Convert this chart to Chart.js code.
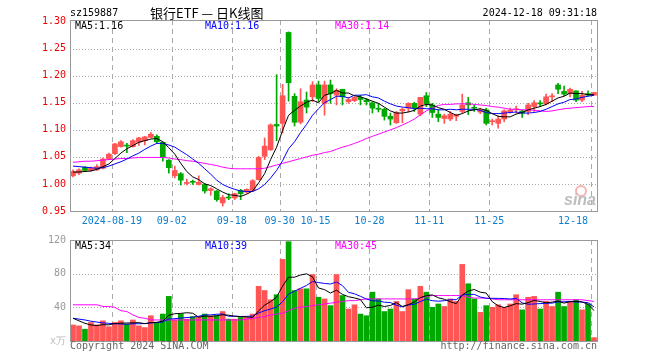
<!DOCTYPE html>
<html>
<head>
<meta charset="utf-8">
<script src="https://cdn.jsdelivr.net/npm/chart.js@4.4.1/dist/chart.umd.min.js"></script>
<style>
  body { margin: 0; background: #fff; }
  #wrap { position: relative; width: 660px; height: 360px; overflow: hidden;
          font-family: "DejaVu Sans Mono", monospace; font-size: 10px; color: #000; }
  #wrap canvas { position: absolute; left: 0; }
  .t { position: absolute; line-height: 12px; white-space: pre; }
</style>
</head>
<body>
<div id="wrap">
  <canvas id="kline" width="660" height="231" style="top:0"></canvas>
  <canvas id="vol" width="660" height="130" style="top:230px"></canvas>

  <div class="t" style="left:70px;top:7px">sz159887</div>
  <div class="t" style="left:150px;top:5px;font-family:'Noto Sans CJK SC';font-size:13px;line-height:16px">银行ETF — 日K线图</div>
  <div class="t" style="right:63px;top:7px">2024-12-18 09:31:18</div>

  <div class="t" style="left:75px;top:20px">MA5:1.16</div>
  <div class="t" style="left:205px;top:20px;color:#0000ff">MA10:1.16</div>
  <div class="t" style="left:335px;top:20px;color:#ff00ff">MA30:1.14</div>

  <div style="position:absolute;left:575px;top:185px;width:8px;height:8px;border:2px solid #f5b3b3;border-radius:50%"></div>
  <div class="t" style="left:564px;top:192px;font:italic bold 16px 'Liberation Sans';line-height:16px;color:#bdbdbd">sina</div>

  <div class="t" style="left:75px;top:240px">MA5:34</div>
  <div class="t" style="left:205px;top:240px;color:#0000ff">MA10:39</div>
  <div class="t" style="left:335px;top:240px;color:#ff00ff">MA30:45</div>

  <div class="t" style="left:70px;top:340px;color:#666">Copyright 2024 SINA.COM</div>
  <div class="t" style="right:63px;top:340px;color:#666">http://finance.sina.com.cn</div>
</div>
<script>
// trading days shown on the chart
const dates = [
  '2024-08-08','2024-08-09','2024-08-12','2024-08-13','2024-08-14','2024-08-15','2024-08-16','2024-08-19','2024-08-20','2024-08-21',
  '2024-08-22','2024-08-23','2024-08-26','2024-08-27','2024-08-28','2024-08-29','2024-08-30','2024-09-02','2024-09-03','2024-09-04',
  '2024-09-05','2024-09-06','2024-09-09','2024-09-10','2024-09-11','2024-09-12','2024-09-13','2024-09-18','2024-09-19','2024-09-20',
  '2024-09-23','2024-09-24','2024-09-25','2024-09-26','2024-09-27','2024-09-30','2024-10-08','2024-10-09','2024-10-10','2024-10-11',
  '2024-10-14','2024-10-15','2024-10-16','2024-10-17','2024-10-18','2024-10-21','2024-10-22','2024-10-23','2024-10-24','2024-10-25',
  '2024-10-28','2024-10-29','2024-10-30','2024-10-31','2024-11-01','2024-11-04','2024-11-05','2024-11-06','2024-11-07','2024-11-08',
  '2024-11-11','2024-11-12','2024-11-13','2024-11-14','2024-11-15','2024-11-18','2024-11-19','2024-11-20','2024-11-21','2024-11-22',
  '2024-11-25','2024-11-26','2024-11-27','2024-11-28','2024-11-29','2024-12-02','2024-12-03','2024-12-04','2024-12-05','2024-12-06',
  '2024-12-09','2024-12-10','2024-12-11','2024-12-12','2024-12-13','2024-12-16','2024-12-17','2024-12-18'
];
const tickDates = ['2024-08-19','2024-09-02','2024-09-18','2024-09-30','2024-10-15','2024-10-28','2024-11-11','2024-11-25','2024-12-18'];
const tickText = ['2024-08-19','09-02','09-18','09-30','10-15','10-28','11-11','11-25','12-18'];

const open = [
  1.015,1.020,1.031,1.025,1.026,1.029,1.046,1.056,1.069,1.071,
  1.069,1.077,1.080,1.086,1.088,1.077,1.044,1.015,1.019,1.001,
  1.004,0.999,0.999,0.988,0.987,0.965,0.975,0.974,0.988,0.985,
  0.988,1.008,1.051,1.063,1.110,1.112,1.280,1.162,1.114,1.155,
  1.161,1.183,1.149,1.183,1.164,1.175,1.152,1.154,1.160,1.155,
  1.150,1.139,1.138,1.125,1.113,1.135,1.140,1.149,1.129,1.163,
  1.146,1.129,1.121,1.120,1.125,1.134,1.150,1.141,1.133,1.137,
  1.115,1.112,1.120,1.133,1.137,1.135,1.134,1.143,1.149,1.148,
  1.161,1.183,1.171,1.167,1.172,1.155,1.167,1.164
];
const high = [
  1.026,1.028,1.032,1.031,1.036,1.048,1.057,1.075,1.080,1.075,
  1.082,1.086,1.088,1.095,1.091,1.078,1.045,1.033,1.021,1.009,
  1.007,1.015,1.001,0.993,0.988,0.979,0.982,0.983,0.990,0.991,
  1.008,1.051,1.085,1.111,1.202,1.184,1.281,1.167,1.176,1.170,
  1.189,1.190,1.190,1.192,1.176,1.175,1.160,1.161,1.164,1.158,
  1.152,1.149,1.140,1.131,1.134,1.140,1.150,1.151,1.160,1.169,
  1.149,1.137,1.129,1.134,1.129,1.166,1.160,1.146,1.140,1.140,
  1.120,1.126,1.137,1.140,1.144,1.137,1.149,1.154,1.154,1.166,
  1.167,1.186,1.181,1.177,1.172,1.171,1.172,1.169
];
const low = [
  1.013,1.017,1.023,1.023,1.025,1.028,1.045,1.054,1.068,1.058,
  1.068,1.071,1.072,1.085,1.075,1.042,1.020,1.011,0.998,0.998,
  0.999,0.998,0.983,0.979,0.968,0.959,0.971,0.971,0.971,0.983,
  0.986,1.007,1.045,1.062,1.080,1.094,1.153,1.107,1.111,1.131,
  1.152,1.152,1.127,1.149,1.146,1.146,1.149,1.152,1.146,1.146,
  1.131,1.133,1.118,1.109,1.112,1.113,1.133,1.134,1.126,1.143,
  1.123,1.115,1.112,1.117,1.117,1.131,1.128,1.134,1.130,1.109,
  1.109,1.103,1.115,1.131,1.131,1.123,1.128,1.134,1.143,1.146,
  1.152,1.167,1.163,1.161,1.152,1.152,1.163,1.164
];
const close = [
  1.023,1.026,1.025,1.029,1.032,1.046,1.055,1.074,1.078,1.070,
  1.080,1.085,1.087,1.092,1.078,1.049,1.030,1.025,1.007,1.002,
  1.003,1.003,0.987,0.991,0.971,0.975,0.974,0.982,0.982,0.990,
  1.006,1.049,1.070,1.109,1.107,1.163,1.187,1.114,1.152,1.142,
  1.183,1.158,1.183,1.167,1.173,1.161,1.156,1.160,1.156,1.152,
  1.140,1.138,1.125,1.120,1.132,1.138,1.149,1.141,1.160,1.148,
  1.132,1.123,1.126,1.129,1.126,1.146,1.146,1.140,1.136,1.112,
  1.116,1.120,1.135,1.136,1.138,1.131,1.146,1.150,1.148,1.161,
  1.162,1.175,1.166,1.175,1.155,1.164,1.164,1.169
];
const ma5 = [
  1.022,1.022,1.023,1.024,1.027,1.032,1.037,1.047,1.057,1.065,
  1.071,1.077,1.080,1.083,1.084,1.078,1.067,1.055,1.038,1.023,
  1.013,1.008,1.000,0.997,0.991,0.985,0.980,0.979,0.977,0.981,
  0.987,1.002,1.019,1.045,1.068,1.099,1.127,1.136,1.144,1.151,
  1.155,1.150,1.164,1.167,1.173,1.168,1.168,1.163,1.161,1.157,
  1.153,1.149,1.142,1.135,1.131,1.131,1.133,1.136,1.144,1.147,
  1.146,1.141,1.138,1.132,1.127,1.130,1.135,1.137,1.139,1.136,
  1.130,1.125,1.124,1.124,1.129,1.132,1.137,1.140,1.143,1.147,
  1.153,1.159,1.162,1.168,1.167,1.167,1.165,1.165
];
const ma10 = [
  1.033,1.032,1.031,1.030,1.029,1.030,1.033,1.037,1.041,1.046,
  1.052,1.057,1.064,1.070,1.075,1.075,1.072,1.068,1.061,1.054,
  1.046,1.038,1.028,1.018,1.007,0.999,0.994,0.990,0.987,0.986,
  0.986,0.991,0.999,1.011,1.025,1.043,1.065,1.078,1.095,1.110,
  1.127,1.139,1.150,1.156,1.162,1.162,1.159,1.164,1.164,1.165,
  1.161,1.159,1.153,1.148,1.144,1.142,1.141,1.139,1.140,1.139,
  1.139,1.137,1.137,1.138,1.137,1.138,1.138,1.138,1.136,1.132,
  1.130,1.130,1.131,1.132,1.133,1.131,1.131,1.132,1.134,1.138,
  1.143,1.148,1.151,1.156,1.157,1.160,1.162,1.164
];
const ma30 = [
  1.040,1.041,1.042,1.042,1.043,1.044,1.045,1.046,1.047,1.047,
  1.048,1.049,1.049,1.049,1.049,1.049,1.048,1.046,1.045,1.043,
  1.042,1.040,1.038,1.036,1.034,1.031,1.029,1.028,1.028,1.028,
  1.028,1.028,1.029,1.032,1.035,1.038,1.041,1.044,1.047,1.050,
  1.053,1.055,1.058,1.060,1.064,1.068,1.071,1.075,1.079,1.084,
  1.088,1.092,1.096,1.100,1.104,1.109,1.114,1.120,1.128,1.135,
  1.140,1.145,1.147,1.147,1.148,1.148,1.148,1.147,1.146,1.145,
  1.143,1.142,1.140,1.138,1.138,1.137,1.137,1.136,1.135,1.134,
  1.135,1.137,1.139,1.140,1.141,1.142,1.143,1.143
];
// volume, unit: 万
const volume = [
  19,18,14,22,19,24,17,22,24,20,
  25,18,16,30,22,32,53,25,32,26,
  29,29,32,30,30,35,26,26,28,28,
  32,65,60,49,55,97,118,60,62,62,
  79,52,50,42,79,54,38,43,32,30,
  58,50,35,38,47,35,61,50,65,58,
  40,44,41,50,47,91,68,50,34,42,
  40,43,40,44,55,37,52,53,38,47,
  41,58,41,47,49,37,44,4
];
const volMa5 = [
  27,24,21,19,18.4,19.4,19.2,20.8,21.2,21.4,
  21.6,21.8,20.6,21.8,22.2,23.6,30.6,32.4,32.8,33.6,
  33,28.2,29.6,29.2,30,31.2,30.6,29.4,29,28.6,
  28,35.8,42.6,46.8,52.2,65.2,75.8,75.8,78.4,79.8,
  76.2,63,61,57,60.4,55.4,52.6,51.2,49.2,39.4,
  40.2,42.6,41,42.2,45.6,41,43.2,46.2,51.6,53.8,
  54.8,51.4,49.6,46.6,44.4,54.6,59.4,61.2,58,57,
  46.8,41.8,39.8,41.8,44.4,43.8,45.6,48.2,47,45.4,
  46.2,47.4,45,46.8,47.2,46.4,43.6,36.2
];
const volMa10 = [
  27,26,25,23.5,22.5,21.5,21,20.5,20.2,19.9,
  20.5,20.5,20.7,21.5,21.8,22.6,26.2,26.5,27.3,27.9,
  28.3,29.4,31,31,31.8,32.1,29.4,29.5,29.1,29.3,
  29.6,33.2,36,37.9,40.4,46.6,55.8,59.2,62.6,66,
  70.7,69.4,68.4,67.7,70.1,65.8,57.8,56.1,53.1,49.9,
  47.8,47.6,46.1,45.7,42.5,40.6,42.9,43.6,46.9,49.7,
  47.9,47.3,47.9,49.1,49.1,54.7,55.4,55.4,52.3,50.7,
  50.7,50.6,50.5,49.9,50.7,45.3,43.7,44,44.4,44.9,
  45,46.5,46.6,46.9,46.3,46.3,45.5,40.6
];
const volMa30 = [
  43,43,43,43,43,41,41,40,36,35,
  31,28,27,25,25,25,25,25,25,25,
  25,25,25,25,25,25,25,25,25,26,
  27,28,29,31,32,33,36,39,40,41,
  42,43,44,45,46,47,48,48,49,50,
  50,50,50,50,50,50,50,50,51,53,
  54,54,54,54,54,54,52,51,51,51,
  50,49,49,49,49,49,49,49,49,49,
  49,49,49,49,49,49,48,47
];
const priceTicks = [0.95, 1.00, 1.05, 1.10, 1.15, 1.20, 1.25, 1.30];
const volTicks = [0, 40, 80, 120];

const MONO = "'DejaVu Sans Mono', monospace";
const UP = '#ff5555';
const DOWN = '#00a800';
const GRID = '#aaaaaa';
const colors = close.map((c, i) => (c >= open[i] ? UP : DOWN));
const tickIdx = tickDates.map(d => dates.indexOf(d));

// dashed date lines and dotted level lines, behind the bars
const gridPlugin = {
  id: 'sinaGrid',
  beforeDatasetsDraw(chart, args, opts) {
    const { ctx, chartArea: a, scales: { x, y } } = chart;
    const half = (x.getPixelForValue(1) - x.getPixelForValue(0)) / 2;
    ctx.save();
    ctx.strokeStyle = GRID;
    ctx.lineWidth = 1;
    ctx.setLineDash([5, 4]);
    tickIdx.forEach(i => {
      const px = Math.round(x.getPixelForValue(i) - half) + 0.5;
      ctx.beginPath();
      ctx.moveTo(px, a.top);
      ctx.lineTo(px, a.bottom);
      ctx.stroke();
    });
    ctx.setLineDash([1, 2]);
    opts.levels.forEach(v => {
      const py = Math.round(y.getPixelForValue(v)) + 0.5;
      ctx.beginPath();
      ctx.moveTo(a.left, py);
      ctx.lineTo(a.right, py);
      ctx.stroke();
    });
    ctx.restore();
  }
};

// grey box round the plot area
const framePlugin = {
  id: 'frame',
  afterDraw(chart) {
    const { ctx, chartArea: a } = chart;
    ctx.save();
    ctx.strokeStyle = '#999';
    ctx.lineWidth = 1;
    ctx.strokeRect(a.left + 0.5, a.top + 0.5, a.right - a.left, a.bottom - a.top);
    ctx.restore();
  }
};

function xScale(showLabels) {
  return {
    type: 'category',
    offset: true,
    grid: { display: false, drawTicks: false },
    border: { display: false },
    ticks: {
      display: showLabels,
      autoSkip: false,
      minRotation: 0,
      maxRotation: 0,
      padding: 4,
      labelOffset: -3,
      color: '#0a7fd0',
      font: { family: MONO, size: 10 },
      callback: (v, i) => {
        const k = tickIdx.indexOf(i);
        if (k < 0) return '';
        // last label is pushed left so it stays inside the frame
        return k === tickText.length - 1 ? tickText[k] + '      ' : tickText[k];
      }
    },
    afterFit: s => { s.height = showLabels ? 20 : 19; }
  };
}

function maLine(data, color) {
  return { type: 'line', data, borderColor: color, borderWidth: 1, pointRadius: 0, tension: 0, order: 1 };
}

new Chart(document.getElementById('kline'), {
  type: 'bar',
  data: {
    labels: dates,
    datasets: [
      maLine(ma5, '#000000'),
      maLine(ma10, '#0000ff'),
      maLine(ma30, '#ff00ff'),
      {
        type: 'bar',
        data: close.map((c, i) => [open[i], c]),
        backgroundColor: colors,
        barThickness: 5,
        minBarLength: 1,
        grouped: false,
        order: 2
      },
      {
        type: 'bar',
        data: low.map((l, i) => [l, high[i]]),
        backgroundColor: colors,
        barThickness: 1,
        grouped: false,
        order: 3
      }
    ]
  },
  options: {
    responsive: false,
    animation: false,
    devicePixelRatio: 1,
    layout: { padding: { left: 0, right: 63, top: 20, bottom: 0 } },
    plugins: {
      legend: { display: false },
      tooltip: { enabled: false },
      sinaGrid: { levels: priceTicks.slice(1, -1) }
    },
    scales: {
      x: xScale(true),
      y: {
        min: 0.95,
        max: 1.303,
        afterBuildTicks: s => { s.ticks = priceTicks.map(v => ({ value: v })); },
        grid: { display: false, drawTicks: false },
        border: { display: false },
        ticks: {
          padding: 4,
          color: '#ee0000',
          font: { family: MONO, size: 10 },
          callback: v => v.toFixed(2)
        },
        afterFit: s => { s.width = 70; }
      }
    }
  },
  plugins: [gridPlugin, framePlugin]
});

new Chart(document.getElementById('vol'), {
  type: 'bar',
  data: {
    labels: dates,
    datasets: [
      maLine(volMa5, '#000000'),
      maLine(volMa10, '#0000ff'),
      maLine(volMa30, '#ff00ff'),
      {
        type: 'bar',
        data: volume,
        backgroundColor: colors,
        barThickness: 5,
        grouped: false,
        order: 2
      }
    ]
  },
  options: {
    responsive: false,
    animation: false,
    devicePixelRatio: 1,
    layout: { padding: { left: 0, right: 63, top: 10, bottom: 0 } },
    plugins: {
      legend: { display: false },
      tooltip: { enabled: false },
      sinaGrid: { levels: [40, 80] }
    },
    scales: {
      x: xScale(false),
      y: {
        min: 0,
        max: 120,
        afterBuildTicks: s => { s.ticks = volTicks.map(v => ({ value: v })); },
        grid: { display: false, drawTicks: false },
        border: { display: false },
        ticks: {
          padding: 4,
          color: c => (c.tick && c.tick.value === 0 ? '#bbbbbb' : '#999999'),
          font: { family: MONO, size: 10 },
          callback: v => (v === 0 ? 'x万' : v)
        },
        afterFit: s => { s.width = 70; }
      }
    }
  },
  plugins: [gridPlugin, framePlugin]
});
</script>
</body>
</html>
